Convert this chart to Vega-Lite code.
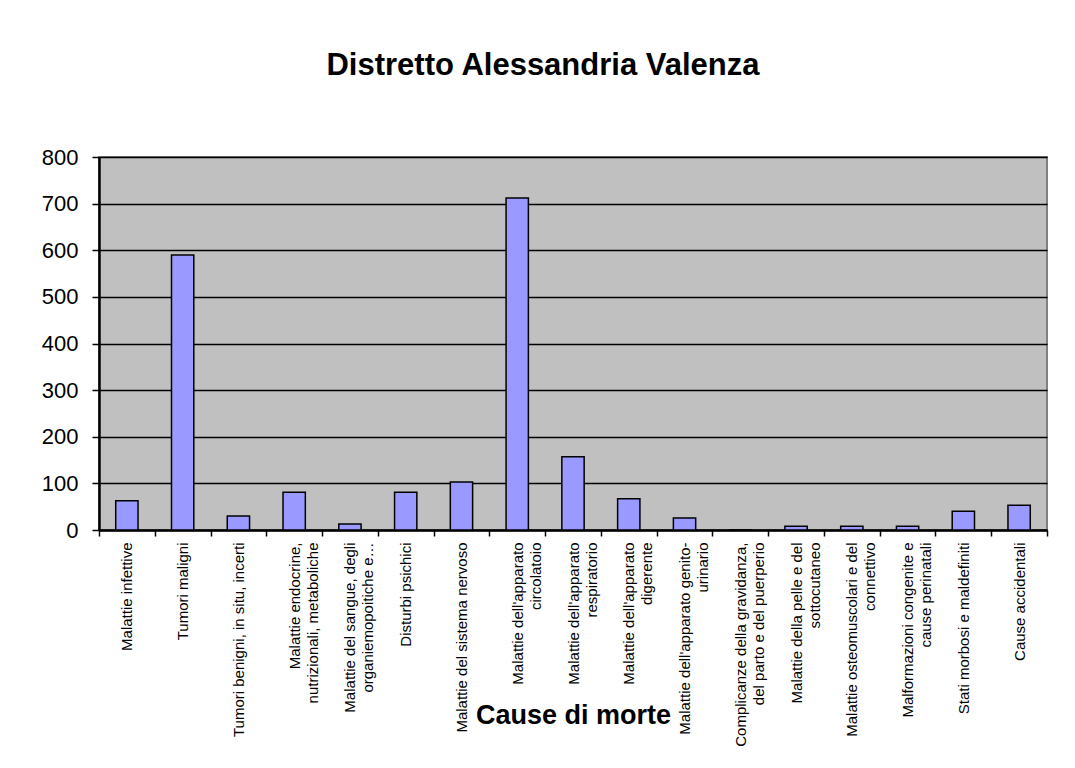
{
  "$schema": "https://vega.github.io/schema/vega-lite/v6.json",
  "width": 948,
  "height": 373,
  "autosize": "none",
  "padding": {"left": 99, "top": 157, "right": 28, "bottom": 238},
  "background": "white",
  "title": {
    "text": "Distretto Alessandria Valenza",
    "font": "Liberation Sans",
    "fontSize": 31,
    "fontWeight": "bold",
    "color": "black",
    "anchor": "middle",
    "dx": -30,
    "offset": 64
  },
  "config": {
    "view": {"fill": "#C0C0C0", "stroke": "#808080", "strokeWidth": 2},
    "axis": {"labelFont": "Liberation Sans", "titleFont": "Liberation Sans", "labelColor": "black", "titleColor": "black"}
  },
  "data": {
    "values": [
      {"causa": "Malattie infettive", "decessi": 63},
      {"causa": "Tumori maligni", "decessi": 590},
      {"causa": "Tumori benigni, in situ, incerti", "decessi": 30},
      {"causa": "Malattie endocrine,\nnutrizionali, metaboliche", "decessi": 81},
      {"causa": "Malattie del sangue, degli\norganiemopoitiche e…", "decessi": 13},
      {"causa": "Disturbi psichici", "decessi": 81},
      {"causa": "Malattie del sistema nervoso", "decessi": 103},
      {"causa": "Malattie dell'apparato\ncircolatoio", "decessi": 712},
      {"causa": "Malattie dell'apparato\nrespiratorio", "decessi": 157},
      {"causa": "Malattie dell'apparato\ndigerente", "decessi": 67},
      {"causa": "Malattie dell'apparato genito-\nurinario", "decessi": 26},
      {"causa": "Complicanze della gravidanza,\ndel parto e del puerperio", "decessi": 0},
      {"causa": "Malattie della pelle e del\nsottocutaneo", "decessi": 8},
      {"causa": "Malattie osteomuscolari e del\nconnettivo", "decessi": 8},
      {"causa": "Malformazioni congenite e\ncause perinatali", "decessi": 8},
      {"causa": "Stati morbosi e maldefiniti", "decessi": 40},
      {"causa": "Cause accidentali", "decessi": 53}
    ]
  },
  "mark": {"type": "bar", "fill": "#9999FF", "stroke": "black", "strokeWidth": 1.5, "width": {"band": 0.4}},
  "encoding": {
    "x": {
      "field": "causa",
      "type": "nominal",
      "sort": null,
      "scale": {"paddingInner": 0, "paddingOuter": 0},
      "axis": {
        "title": "Cause di morte",
        "titleFontSize": 27,
        "titleFontWeight": "bold",
        "titleY": 185,
        "titleBaseline": "middle",
        "labelAngle": -90,
        "labelAlign": "right",
        "labelBaseline": "middle",
        "labelFontSize": 15,
        "labelLineHeight": 18,
        "labelPadding": 6,
        "labelExpr": "split(datum.label, '\\n')",
        "labelLimit": 300,
        "tickBand": "extent",
        "tickSize": 6,
        "tickColor": "black",
        "tickWidth": 1.5,
        "domainColor": "black",
        "domainWidth": 2.5
      }
    },
    "y": {
      "field": "decessi",
      "type": "quantitative",
      "scale": {"domain": [0, 800], "nice": false},
      "axis": {
        "title": null,
        "values": [0, 100, 200, 300, 400, 500, 600, 700, 800],
        "labelFontSize": 22,
        "labelPadding": 14,
        "tickSize": 7,
        "tickColor": "black",
        "tickWidth": 1.5,
        "domainColor": "black",
        "domainWidth": 2.5,
        "grid": true,
        "gridColor": "black",
        "gridWidth": 1.5
      }
    }
  }
}
